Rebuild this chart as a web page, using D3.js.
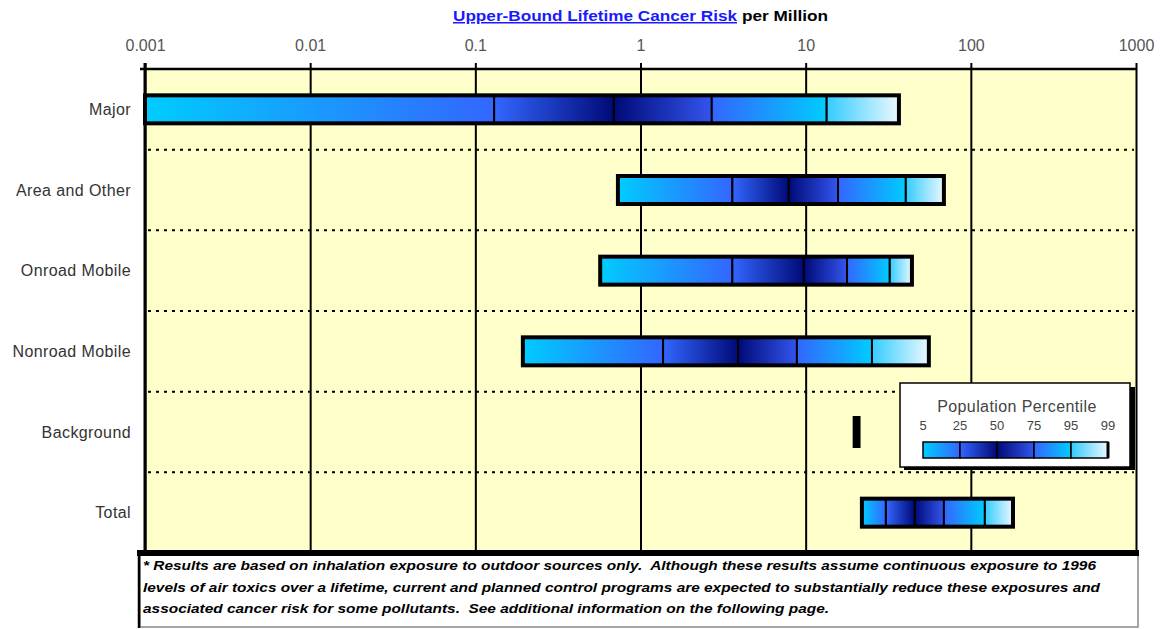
<!DOCTYPE html>
<html><head><meta charset="utf-8">
<script src="https://cdn.jsdelivr.net/npm/d3@7"></script>
<style>body{margin:0;background:#fff} svg{display:block}</style>
</head><body>
<svg id="chart" width="1162" height="629"></svg>
<script>
var categories = ["Major", "Area and Other", "Onroad Mobile", "Nonroad Mobile", "Background", "Total"];
// upper-bound risk per million at each population percentile
var p5  = [0.001, 0.73, 0.57, 0.194, 19.8, 21.9];
var p25 = [0.13, 3.6, 3.6, 1.37, 20.0, 30.6];
var p50 = [0.69, 7.9, 9.75, 3.9, 20.2, 45.8];
var p75 = [2.7, 15.7, 17.8, 8.85, 20.4, 68.7];
var p95 = [13.4, 40.4, 32.3, 25.2, 20.6, 121.6];
var p99 = [36.7, 68.7, 44, 55.7, 20.9, 180];
var percentiles = ["5", "25", "50", "75", "95", "99"];
var tickValues = [0.001, 0.01, 0.1, 1, 10, 100, 1000];
var tickLabels = ["0.001", "0.01", "0.1", "1", "10", "100", "1000"];
var footnote = [
  "* Results are based on inhalation exposure to outdoor sources only.  Although these results assume continuous exposure to 1996",
  "levels of air toxics over a lifetime, current and planned control programs are expected to substantially reduce these exposures and",
  "associated cancer risk for some pollutants.  See additional information on the following page."
];
var footnoteWidths = [953, 957, 686];
var segColors = [["#00ccff", "#3366ff"], ["#3366ff", "#000a78"], ["#000a78", "#3355ee"], ["#3366ff", "#00ccff"], ["#33ccff", "#eaf8ff"]];

var svg = d3.select("#chart");
var font = "'Liberation Sans', Arial, sans-serif";

var x = d3.scaleLog().domain([0.001, 1000]).range([145, 1136]);
var y = d3.scaleBand().domain(categories).range([69, 553]);

// gradients, one per percentile band
var defs = svg.append("defs");
segColors.forEach(function(c, k) {
  var g = defs.append("linearGradient").attr("id", "seg" + k);
  g.append("stop").attr("offset", "0%").attr("stop-color", c[0]);
  g.append("stop").attr("offset", "100%").attr("stop-color", c[1]);
});

// plot area
svg.append("rect")
    .attr("x", 145).attr("y", 69)
    .attr("width", 1136 - 145).attr("height", 553 - 69)
    .attr("fill", "#ffffcc");

// row separators
svg.append("g").selectAll("line")
    .data(categories.slice(0, -1))
  .enter().append("line")
    .attr("x1", 148).attr("x2", 1134)
    .attr("y1", function(d) { return y(d) + y.bandwidth(); })
    .attr("y2", function(d) { return y(d) + y.bandwidth(); })
    .attr("stroke", "#000").attr("stroke-width", 2)
    .attr("stroke-dasharray", "3,5");

// x axis on top, ticks run through the plot
var xAxis = d3.axisTop(x)
    .tickValues(tickValues)
    .tickFormat(function(d, i) { return tickLabels[i]; })
    .tickSize(6);
var ax = svg.append("g").attr("transform", "translate(0,69)").call(xAxis);
ax.select(".domain").remove();
ax.selectAll(".tick line").attr("y2", 553 - 69).attr("y1", -6)
    .attr("stroke", "#000").attr("stroke-width", 2);
ax.selectAll(".tick text")
    .attr("y", -18)
    .style("font-family", font).style("font-size", "16px")
    .attr("fill", "#555");

svg.append("line")
    .attr("x1", 140).attr("x2", 1137).attr("y1", 69).attr("y2", 69)
    .attr("stroke", "#000").attr("stroke-width", 2.5);
svg.append("line")
    .attr("x1", 145).attr("x2", 145).attr("y1", 63).attr("y2", 553)
    .attr("stroke", "#000").attr("stroke-width", 3);

// category labels
svg.append("g").selectAll("text")
    .data(categories)
  .enter().append("text")
    .attr("x", 131)
    .attr("y", function(d) { return y(d) + y.bandwidth() / 2; })
    .attr("dy", ".35em")
    .attr("text-anchor", "end")
    .style("font-family", font).style("font-size", "16px")
    .style("letter-spacing", "0.4px")
    .attr("fill", "#333")
    .text(function(d) { return d; });

// bars
var barH = 28;
var bars = svg.append("g").selectAll("g")
    .data(categories)
  .enter().append("g")
    .attr("transform", function(d) { return "translate(0," + (y(d) + y.bandwidth() / 2 - barH / 2) + ")"; });

bars.each(function(d, i) {
  var vals = [p5[i], p25[i], p50[i], p75[i], p95[i], p99[i]];
  var g = d3.select(this);
  g.selectAll("rect.seg")
      .data(d3.range(5))
    .enter().append("rect")
      .attr("class", "seg")
      .attr("x", function(k) { return x(vals[k]); })
      .attr("width", function(k) { return x(vals[k + 1]) - x(vals[k]); })
      .attr("height", barH)
      .attr("fill", function(k) { return "url(#seg" + k + ")"; })
      .attr("stroke", "#000").attr("stroke-width", 2);
  g.append("rect")
      .attr("x", x(vals[0]))
      .attr("width", x(vals[5]) - x(vals[0]))
      .attr("height", barH)
      .attr("fill", "none")
      .attr("stroke", "#000").attr("stroke-width", 4);
});

// title
svg.append("text")
    .attr("x", 453).attr("y", 21)
    .attr("textLength", 284).attr("lengthAdjust", "spacingAndGlyphs")
    .style("font-family", font).style("font-size", "15px").style("font-weight", "bold")
    .style("text-decoration", "underline")
    .attr("fill", "#1a1aff")
    .text("Upper-Bound Lifetime Cancer Risk");
svg.append("text")
    .attr("x", 742).attr("y", 21)
    .attr("textLength", 86).attr("lengthAdjust", "spacingAndGlyphs")
    .style("font-family", font).style("font-size", "15px").style("font-weight", "bold")
    .attr("fill", "#000")
    .text("per Million");

// legend
var lg = svg.append("g");
lg.append("rect").attr("x", 904).attr("y", 387).attr("width", 231).attr("height", 83).attr("fill", "#000");
lg.append("rect").attr("x", 900).attr("y", 383).attr("width", 230).attr("height", 84)
    .attr("fill", "#fff").attr("stroke", "#000").attr("stroke-width", 1.5);
lg.append("text")
    .attr("x", 1017).attr("y", 412)
    .attr("text-anchor", "middle")
    .style("font-family", font).style("font-size", "16px")
    .style("letter-spacing", "0.4px")
    .attr("fill", "#444")
    .text("Population Percentile");
var lx = d3.scalePoint().domain(percentiles).range([923, 1108]);
lg.selectAll("text.pct")
    .data(percentiles)
  .enter().append("text")
    .attr("class", "pct")
    .attr("x", function(d) { return lx(d); })
    .attr("y", 430)
    .attr("text-anchor", "middle")
    .style("font-family", font).style("font-size", "13px")
    .attr("fill", "#444")
    .text(function(d) { return d; });
lg.selectAll("rect.lseg")
    .data(d3.range(5))
  .enter().append("rect")
    .attr("class", "lseg")
    .attr("x", function(k) { return lx(percentiles[k]); })
    .attr("y", 442)
    .attr("width", function(k) { return lx(percentiles[k + 1]) - lx(percentiles[k]); })
    .attr("height", 16)
    .attr("fill", function(k) { return "url(#seg" + k + ")"; })
    .attr("stroke", "#000").attr("stroke-width", 1.5);
lg.append("line")
    .attr("x1", lx("99")).attr("x2", lx("99")).attr("y1", 442).attr("y2", 458)
    .attr("stroke", "#000").attr("stroke-width", 3);

// footnote box
svg.append("rect")
    .attr("x", 140).attr("y", 554).attr("width", 998).attr("height", 73)
    .attr("fill", "#fff").attr("stroke", "#888").attr("stroke-width", 1.5);
svg.append("line")
    .attr("x1", 139).attr("x2", 139).attr("y1", 552).attr("y2", 628)
    .attr("stroke", "#000").attr("stroke-width", 2.5);
svg.append("line")
    .attr("x1", 137).attr("x2", 1139).attr("y1", 553).attr("y2", 553)
    .attr("stroke", "#000").attr("stroke-width", 6);
svg.append("g").selectAll("text")
    .data(footnote)
  .enter().append("text")
    .attr("x", 143)
    .attr("y", function(d, i) { return 570 + i * 21.5; })
    .attr("textLength", function(d, i) { return footnoteWidths[i]; })
    .attr("lengthAdjust", "spacingAndGlyphs")
    .style("white-space", "pre")
    .style("font-family", font).style("font-size", "12px")
    .style("font-weight", "bold").style("font-style", "italic")
    .attr("fill", "#000")
    .text(function(d) { return d; });
</script>
</body></html>
